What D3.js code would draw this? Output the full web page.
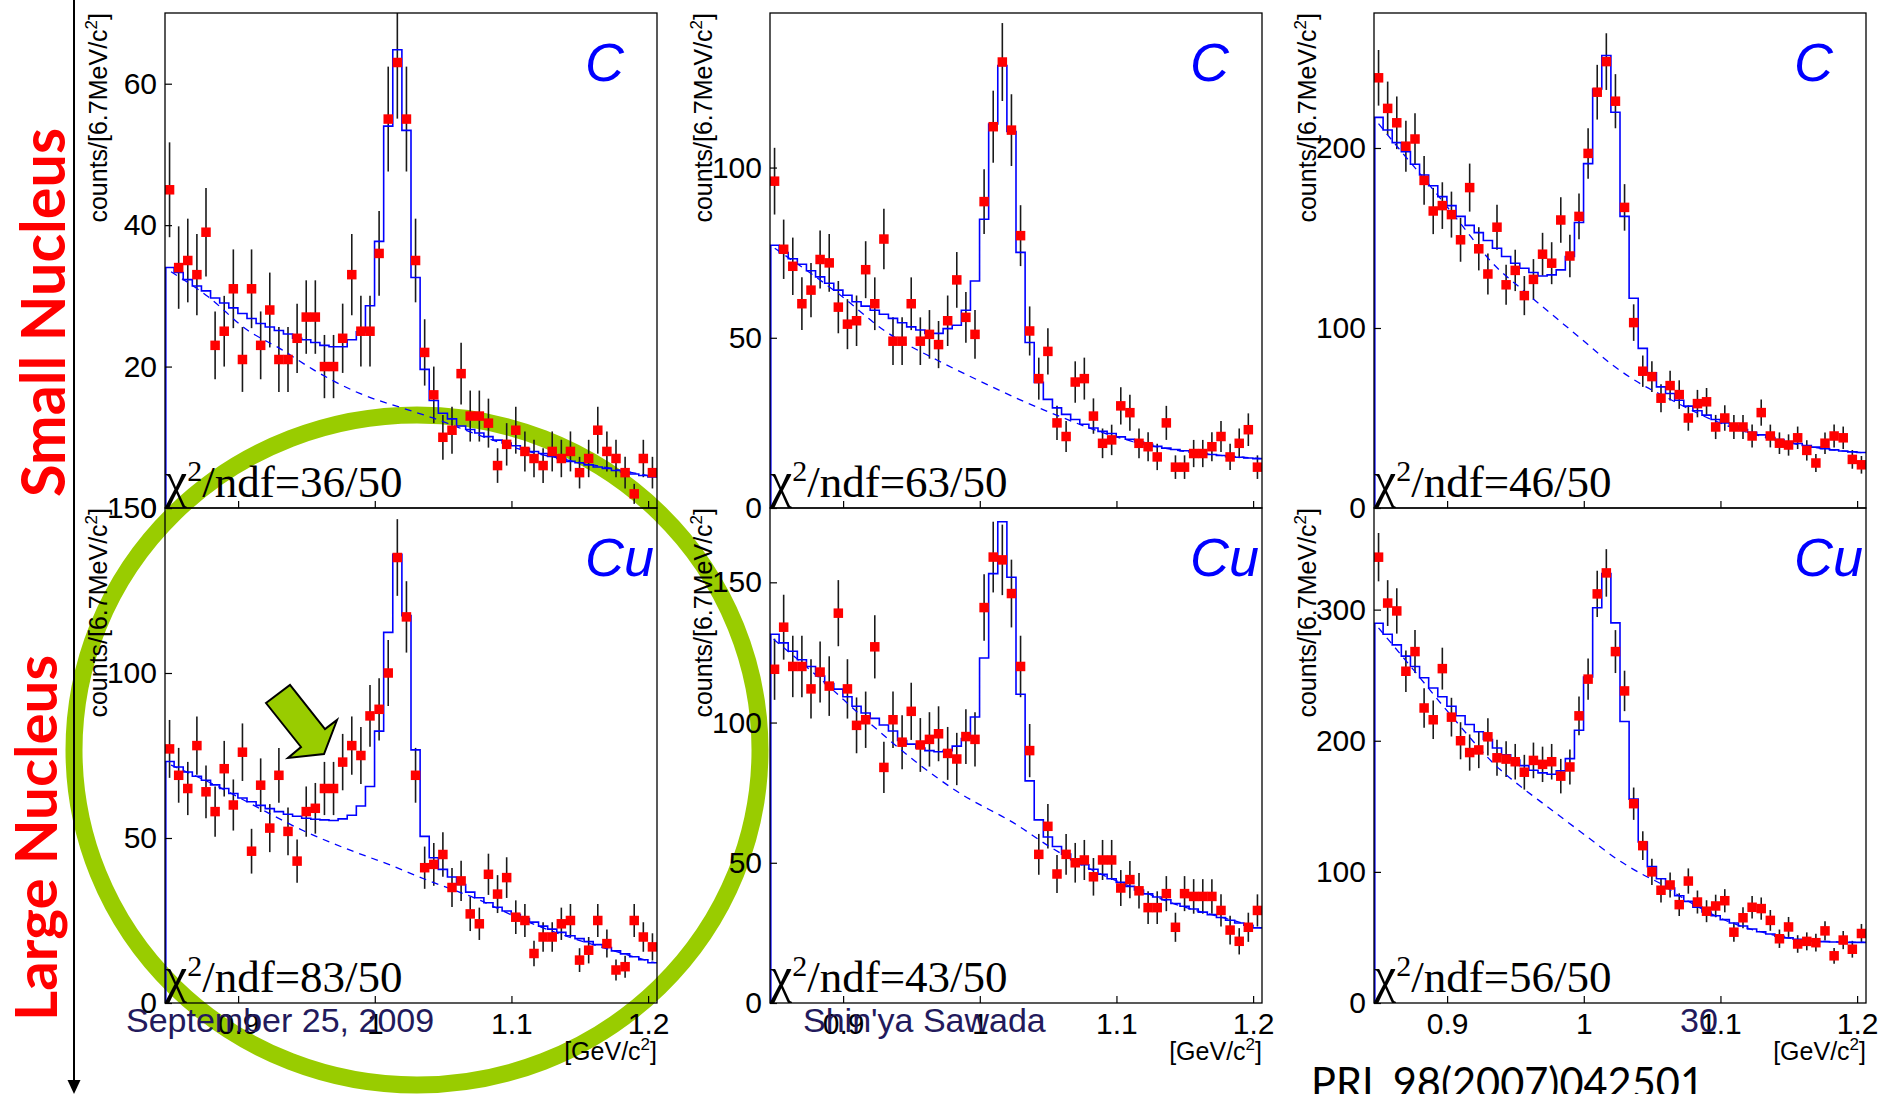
<!DOCTYPE html>
<html><head><meta charset="utf-8">
<script src="https://cdn.jsdelivr.net/npm/d3@7"></script>
<style>html,body{margin:0;padding:0;background:#fff;} svg{display:block;}</style>
</head><body>
<svg id="chart" width="1878" height="1094"></svg>
<script>
// ---------------- DATA ----------------
// histogram binning: 54 bins of 6.67 MeV/c^2
const massRange = [0.8465, 1.2065];
const nBins = 54;
const xTickValues = [0.9, 1.0, 1.1, 1.2];
const xTickLabels = ["0.9", "1", "1.1", "1.2"];

const targets = ["C", "C", "C", "Cu", "Cu", "Cu"];
const chi2Labels = ["36/50", "63/50", "46/50", "83/50", "43/50", "56/50"];
const yMaxima = [70, 145.4, 275, 150, 176.5, 377.5];
const yTickSets = [[0, 20, 40, 60], [0, 50, 100], [0, 100, 200], [0, 50, 100, 150], [0, 50, 100, 150], [0, 100, 200, 300]];

// measured counts per bin (red squares)
const counts1 = [45,34,35,33,39,23,25,31,21,31,23,28,21,21,24,27,27,20,20,24,33,25,25,36,55,63,55,35,22,16,10,11,19,13,13,12,6,9,11,8,7,6,8,7,8,5,7,11,8,7,5,2,7,5];
const counts2 = [96,76,71,60,64,73,72,59,54,55,70,60,79,49,49,60,49,51,48,55,67,56,51,90,112,131,111,80,52,38,46,25,21,37,38,27,19,20,30,28,19,18,15,25,12,12,16,16,18,21,15,19,23,12];
const counts3 = [239,222,214,201,205,182,165,168,163,149,178,144,130,156,124,132,118,127,141,136,160,140,162,197,231,248,226,167,103,76,73,61,68,63,50,58,59,45,50,45,45,40,53,40,36,35,39,32,25,36,40,39,27,24];
const counts4 = [77,69,65,78,64,58,71,60,76,46,66,53,69,52,43,58,59,65,65,73,78,75,87,89,100,135,117,69,41,42,45,35,37,27,24,39,33,38,26,25,15,20,20,24,25,13,16,25,18,10,11,25,20,17];
const counts5 = [119,134,120,120,112,118,113,139,112,99,101,127,84,101,93,104,92,94,96,89,87,95,94,141,159,158,146,120,90,53,63,46,53,50,51,45,51,51,41,44,40,34,34,39,27,39,38,38,38,33,26,22,27,33];
const counts6 = [340,305,299,253,268,225,216,255,218,200,191,193,203,187,186,184,176,185,182,184,173,180,219,247,312,328,268,238,152,120,100,86,90,75,93,77,70,74,78,54,65,73,72,63,49,58,45,47,46,55,36,48,41,53];

// fitted histogram per bin (blue solid steps)
const fit1 = [34,33.3,32.3,31.4,30.7,29.7,29.0,28.3,27.5,26.8,26.1,25.6,25.1,24.6,24.0,23.8,23.4,23.0,22.8,22.8,23.8,24.9,28.6,37.7,54.0,64.8,53.4,32.6,19.6,15.2,13.4,12.6,11.6,11.1,10.6,10.1,9.6,9.2,8.8,8.4,8.0,7.7,7.3,7.0,6.6,6.4,6.1,5.8,5.6,5.3,5.1,4.8,4.6,4.4];
const fit2 = [77.2,75.0,73.2,71.6,69.7,67.9,66.0,64.0,62.5,60.6,59.3,58.1,56.9,55.7,54.4,53.2,52.3,51.3,51.3,52.7,53.7,58.1,66.7,84.8,112.8,130,110.6,75.1,48.6,36.9,31.9,29.4,27.5,26.0,24.6,23.5,22.5,21.9,20.9,20.2,19.4,18.7,18.1,17.6,17.2,16.8,16.4,16.0,15.7,15.4,15.1,14.9,14.7,14.5];
const fit3 = [217,210,203,198,191,185,179,173,168,162,157,153,148.6,144.3,139.7,136,133.2,130.8,128.9,129.5,132.3,139.7,158.6,191.3,232.8,251.4,219.9,162,116.5,88.7,75.1,67.3,63.6,59.9,56.6,54,51.6,49.2,47.3,45.5,43.6,42.1,40.6,39.1,38,36.7,35.8,34.7,33.8,33,32.3,31.7,31.2,30.8];
const fit4 = [73.2,71.5,70,68.7,67.5,66.1,65,63.5,62.1,61,59.9,58.9,58,57.2,56.6,56,55.7,55.5,55.3,55.8,56.9,59.7,65.6,82.4,112.3,136,117.4,76.7,50.5,44,40.5,38.2,35.9,33.6,31.9,30.4,29,27.9,26.8,25.6,24.5,23.3,22.4,21.4,20.4,19.5,18.6,17.7,16.8,15.8,14.9,14,13.1,12.2];
const fit5 = [131.5,128.4,125.4,122.4,120,116.6,113.9,111.9,109.2,105.8,103.4,101.5,99.1,97,93.6,92.3,90.9,90,89.6,90,91.6,94.3,102,123,153.1,171.6,151.8,110.1,79.2,65.3,59.2,55.8,53.1,51.1,49.3,47.7,45.9,44.3,43,41.6,40.3,38.9,37.8,36.8,35.5,34.5,33.5,32.4,31.5,30.5,29.5,28.5,27.7,26.8];
const fit6 = [289.6,281.2,273.1,264.5,256.6,248,240.2,233.5,226.3,219.1,212.4,206.9,200.9,194.5,189.3,185.3,181,177.5,175.5,174.5,177,186.4,208,248.6,301.4,327.5,289.9,214.7,155.5,122.8,104,94.8,87.6,81.8,77.5,73.1,69.4,66.5,63.6,61,58.7,56.4,54.3,52.6,50.9,49.7,48.6,47.7,47.1,46.8,46.5,46.2,46.2,46.2];

// background curve (blue dashed): mass points and counts
const bgMass1 = [0.8509,0.8779,0.9065,0.9319,0.9573,0.9890,1.0208,1.0430,1.0748,1.1065,1.1383,1.1700,1.2049];
const bg1     = [33.4,29.9,25.2,22.4,19.3,16.2,14.1,12.7,10.4,8.3,6.9,5.7,4.4];
const bgMass2 = [0.8500,0.8964,0.9313,0.9690,1.0010,1.0300,1.0561,1.0851,1.1142,1.1432,1.1722,1.2056];
const bg2     = [76.3,63,51.8,43.4,37.1,31.7,27.3,22.8,19.3,17.0,15.6,14.5];
const bgMass3 = [0.8498,0.8674,0.8838,0.9099,0.9333,0.9552,0.9772,0.9992,1.0211,1.0431,1.0596,1.0870,1.1145,1.1420,1.1694,1.2051];
const bg3     = [213.5,197.2,182.4,158,136,121.2,107.2,93.3,79.4,68.3,61.8,51.3,43.2,37.7,33.6,30.6];
const bgMass4 = [0.8509,0.8843,0.9160,0.9478,0.9795,1.0113,1.0367,1.0748,1.1065,1.1383,1.1700,1.2049];
const bg4     = [72.1,65.8,58.9,52.2,46.7,41.8,37.5,31.5,25.5,20.5,16.4,12.2];
const bgMass5 = [0.8491,0.8819,0.9197,0.9545,0.9835,1.0271,1.0503,1.0832,1.1165,1.1432,1.1722,1.2056];
const bg5     = [129.7,116.2,99.7,85.5,75.4,63.5,56,47.2,40.3,35.2,31.2,26.8];
const bgMass6 = [0.8498,0.8756,0.9031,0.9388,0.9552,0.9717,0.9882,1.0047,1.0239,1.0431,1.0563,1.0695,1.1027,1.1362,1.1694,1.2051];
const bg6     = [286.1,253.8,219,178,164,151,138,125,110,98,91,82,63.5,52.5,47.2,46.2];

const panelCounts = [counts1, counts2, counts3, counts4, counts5, counts6];
const panelFits = [fit1, fit2, fit3, fit4, fit5, fit6];
const panelBgMass = [bgMass1, bgMass2, bgMass3, bgMass4, bgMass5, bgMass6];
const panelBg = [bg1, bg2, bg3, bg4, bg5, bg6];

// ---------------- LAYOUT ----------------
const colLeft = [165, 770, 1374];
const rowTop = [13, 508];
const W = 492, H = 495;
const RED = "#ff0000", BLUE = "#0000ff", GREEN = "#99cc00", NAVY = "#231a5c";
const SANS = "'Liberation Sans', Arial, sans-serif";
const SERIF = "'Liberation Serif', 'Times New Roman', serif";

const svg = d3.select("#chart");
svg.append("rect").attr("width", 1878).attr("height", 1094).attr("fill", "#fff");

// green highlight ring (behind plots)
svg.append("ellipse")
  .attr("cx", 417).attr("cy", 750).attr("rx", 343).attr("ry", 335)
  .attr("fill", "none").attr("stroke", GREEN).attr("stroke-width", 17);

const binWidth = (massRange[1] - massRange[0]) / nBins;
const binEdges = d3.range(nBins + 1).map(k => massRange[0] + k * binWidth);

for (let i = 0; i < 6; i++) {
  const col = i % 3, row = Math.floor(i / 3);
  const g = svg.append("g").attr("transform", `translate(${colLeft[col]},${rowTop[row]})`);
  const x = d3.scaleLinear().domain(massRange).range([0, W]);
  const y = d3.scaleLinear().domain([0, yMaxima[i]]).range([H, 0]);

  const clipId = "clip" + i;
  g.append("clipPath").attr("id", clipId).append("rect").attr("width", W).attr("height", H);
  const inner = g.append("g").attr("clip-path", `url(#${clipId})`);

  const counts = panelCounts[i], fit = panelFits[i];
  const pts = counts.map((c, k) => ({ m: (binEdges[k] + binEdges[k + 1]) / 2, c }));

  // error bars (Poisson, sqrt N)
  inner.selectAll("line.err").data(pts).join("line").attr("class", "err")
    .attr("x1", d => x(d.m)).attr("x2", d => x(d.m))
    .attr("y1", d => y(d.c - Math.sqrt(d.c))).attr("y2", d => y(d.c + Math.sqrt(d.c)))
    .attr("stroke", "#1a1a1a").attr("stroke-width", 1.6);

  // fit histogram (steps)
  const stepPts = fit.map((v, k) => [binEdges[k], v]).concat([[binEdges[nBins], fit[nBins - 1]]]);
  const stepLine = d3.line().x(d => x(d[0])).y(d => y(d[1])).curve(d3.curveStepAfter);
  inner.append("path").attr("d", stepLine(stepPts))
    .attr("fill", "none").attr("stroke", BLUE).attr("stroke-width", 1.6);
  inner.append("line").attr("x1", x(binEdges[0]) + 0.8).attr("x2", x(binEdges[0]) + 0.8)
    .attr("y1", y(0)).attr("y2", y(fit[0])).attr("stroke", BLUE).attr("stroke-width", 1.6);

  // background (dashed)
  const bgPts = panelBgMass[i].map((m, k) => [m, panelBg[i][k]]);
  inner.append("path")
    .attr("d", d3.line().x(d => x(d[0])).y(d => y(d[1])).curve(d3.curveMonotoneX)(bgPts))
    .attr("fill", "none").attr("stroke", BLUE).attr("stroke-width", 1.3).attr("stroke-dasharray", "7,6");

  // markers
  const ms = 9.5;
  inner.selectAll("rect.pt").data(pts).join("rect").attr("class", "pt")
    .attr("x", d => x(d.m) - ms / 2).attr("y", d => y(d.c) - ms / 2)
    .attr("width", ms).attr("height", ms).attr("fill", RED);

  // frame
  g.append("rect").attr("width", W).attr("height", H).attr("fill", "none")
    .attr("stroke", "#000").attr("stroke-width", 1.3);

  // y axis
  const yAxis = d3.axisLeft(y).tickValues(yTickSets[i]).tickSize(-7).tickPadding(8).tickFormat(d3.format("d"));
  const ya = g.append("g").call(yAxis);
  ya.select(".domain").remove();
  ya.selectAll("line").attr("stroke", "#000").attr("stroke-width", 1.2);
  ya.selectAll("text").style("font-family", SANS).style("font-size", "30px").attr("fill", "#000");

  // x axis
  const xAxis = d3.axisBottom(x).tickValues(xTickValues).tickSize(-7).tickPadding(10)
    .tickFormat((d, k) => row === 1 ? xTickLabels[k] : "");
  const xa = g.append("g").attr("transform", `translate(0,${H})`).call(xAxis);
  xa.select(".domain").remove();
  xa.selectAll("line").attr("stroke", "#000").attr("stroke-width", 1.2);
  xa.selectAll("text").style("font-family", SANS).style("font-size", "30px").attr("fill", "#000");

  // y axis title
  const yt = g.append("text").attr("transform", "translate(-58,0) rotate(-90)")
    .attr("text-anchor", "end").style("font-family", SANS).style("font-size", "25px").attr("fill", "#000");
  yt.append("tspan").text("counts/[6.7MeV/c");
  yt.append("tspan").attr("dy", -10).style("font-size", "17px").text("2");
  yt.append("tspan").attr("dy", 10).text("]");

  // x axis title (bottom row)
  if (row === 1) {
    const xt = g.append("text").attr("x", W).attr("y", H + 57).attr("text-anchor", "end")
      .style("font-family", SANS).style("font-size", "25px").attr("fill", "#000");
    xt.append("tspan").text("[GeV/c");
    xt.append("tspan").attr("dy", -10).style("font-size", "17px").text("2");
    xt.append("tspan").attr("dy", 10).text("]");
  }

  // chi2 label
  const ct = g.append("text").attr("x", 0).attr("y", H - 11)
    .style("font-family", SERIF).style("font-size", "45px").attr("fill", "#000");
  ct.append("tspan").style("font-size", "50px").text("\u03c7");
  ct.append("tspan").attr("dy", -16).style("font-size", "30px").text("2");
  ct.append("tspan").attr("dy", 16).text("/ndf=" + chi2Labels[i]);

  // target label
  g.append("text").attr("x", 420).attr("y", 68)
    .style("font-family", SANS).style("font-size", "54px").style("font-style", "italic")
    .attr("fill", BLUE).text(targets[i]);
}

// green block arrow pointing at the excess
svg.append("polygon")
  .attr("points", [[266,703],[290,685],[325,729],[337,720],[324,754],[288,758],[301,747]].map(p => p.join(",")).join(" "))
  .attr("fill", GREEN).attr("stroke", "#000").attr("stroke-width", 2).attr("stroke-linejoin", "miter");

// row labels
svg.append("text").attr("transform", "translate(65,312.5) rotate(-90)").attr("text-anchor", "middle")
  .style("font-family", "Lato, 'Open Sans', sans-serif").style("font-weight", "bold").style("font-size", "62px")
  .attr("fill", RED).attr("textLength", 369).attr("lengthAdjust", "spacingAndGlyphs").text("Small Nucleus");
svg.append("text").attr("transform", "translate(57,838) rotate(-90)").attr("text-anchor", "middle")
  .style("font-family", "Lato, 'Open Sans', sans-serif").style("font-weight", "bold").style("font-size", "58px")
  .attr("fill", RED).attr("textLength", 366).attr("lengthAdjust", "spacingAndGlyphs").text("Large Nucleus");

// vertical arrow
svg.append("line").attr("x1", 74).attr("x2", 74).attr("y1", 0).attr("y2", 1082)
  .attr("stroke", "#000").attr("stroke-width", 2);
svg.append("polygon").attr("points", "67.5,1080 80.5,1080 74,1094").attr("fill", "#000");

// footer texts
const footer = (txt, xx, yy) => svg.append("text").attr("x", xx).attr("y", yy)
  .style("font-family", SANS).style("font-size", "34px").attr("fill", NAVY).text(txt);
footer("September 25, 2009", 126, 1032);
footer("Shin'ya Sawada", 803, 1032);
footer("30", 1680, 1032);
svg.append("text").attr("x", 1311).attr("y", 1098)
  .style("font-family", "Lato, 'Open Sans', sans-serif").style("font-size", "43px").attr("fill", "#000")
  .attr("textLength", 393).attr("lengthAdjust", "spacingAndGlyphs").text("PRL 98(2007)042501");
</script>
</body></html>
